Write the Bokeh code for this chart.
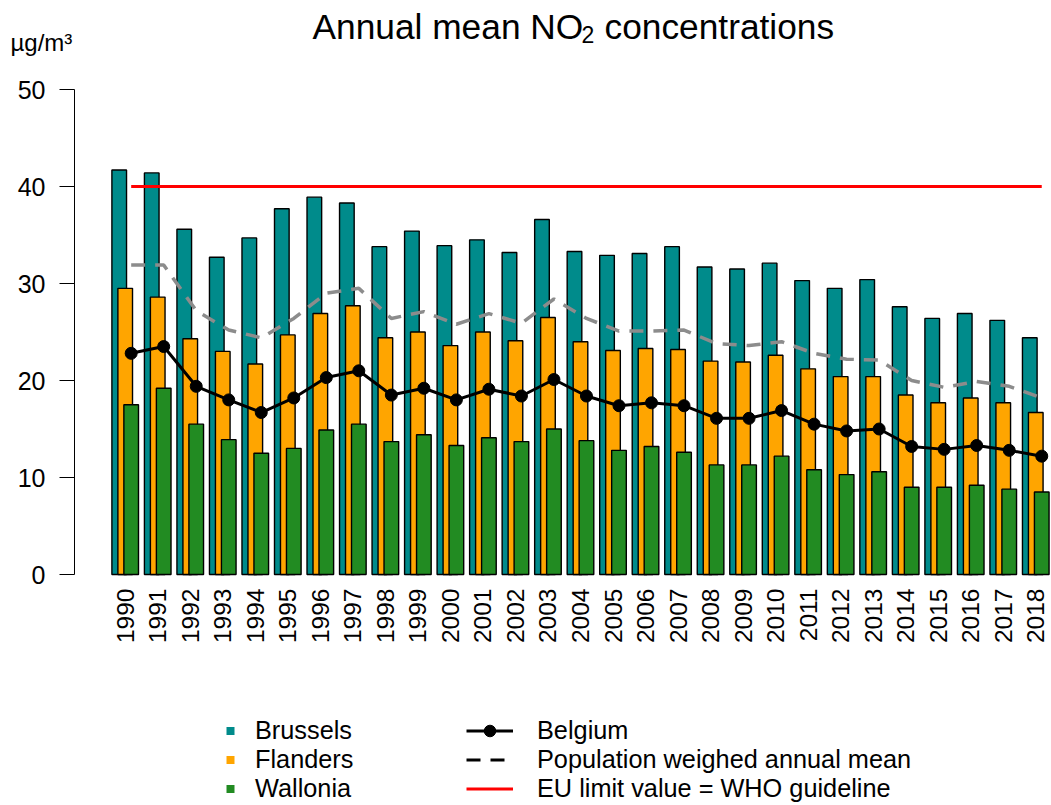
from bokeh.plotting import figure
from bokeh.models import (Range1d, FixedTicker, Label, Legend, LegendItem,
                          ColumnDataSource)
from bokeh.embed import file_html
from bokeh.resources import INLINE
import math

# ---------------- data ----------------
years = [1990, 1991, 1992, 1993, 1994, 1995, 1996, 1997, 1998, 1999,
         2000, 2001, 2002, 2003, 2004, 2005, 2006, 2007, 2008, 2009,
         2010, 2011, 2012, 2013, 2014, 2015, 2016, 2017, 2018]
brussels = [41.7, 41.4, 35.6, 32.7, 34.7, 37.7, 38.9, 38.3, 33.8, 35.4,
            33.9, 34.5, 33.2, 36.6, 33.3, 32.9, 33.1, 33.8, 31.7, 31.5,
            32.1, 30.3, 29.5, 30.4, 27.6, 26.4, 26.9, 26.2, 24.4]
flanders = [29.5, 28.6, 24.3, 23.0, 21.7, 24.7, 26.9, 27.7, 24.4, 25.0,
            23.6, 25.0, 24.1, 26.5, 24.0, 23.1, 23.3, 23.2, 22.0, 21.9,
            22.6, 21.2, 20.4, 20.4, 18.5, 17.7, 18.2, 17.7, 16.7]
wallonia = [17.5, 19.2, 15.5, 13.9, 12.5, 13.0, 14.9, 15.5, 13.7, 14.4,
            13.3, 14.1, 13.7, 15.0, 13.8, 12.8, 13.2, 12.6, 11.3, 11.3,
            12.2, 10.8, 10.3, 10.6, 9.0, 9.0, 9.2, 8.8, 8.5]
belgium = [22.8, 23.5, 19.4, 18.0, 16.7, 18.2, 20.3, 21.0, 18.5, 19.2,
           18.0, 19.1, 18.4, 20.1, 18.4, 17.4, 17.7, 17.4, 16.1, 16.1,
           16.9, 15.5, 14.8, 15.0, 13.2, 12.9, 13.3, 12.8, 12.2]
pop_weighted = [31.9, 31.9, 27.2, 25.2, 24.4, 26.4, 29.0, 29.5, 26.4, 27.1,
                25.8, 26.9, 25.9, 28.4, 26.4, 25.1, 25.1, 25.2, 23.8, 23.6,
                24.0, 22.8, 22.2, 22.1, 20.0, 19.3, 19.9, 19.4, 18.2]
eu_limit = 40
y_ticks = [0, 10, 20, 30, 40, 50]

# ---------------- layout helpers ----------------
FONT = "Liberation Sans"
OFF = 0.184      # bar offset within a year group
BW = 0.45        # bar width
W, H = 1051, 805


def x_at(px):
    return 1990 + (px - 124.7) / 32.52


def y_at(py):
    return (574 - py) / 9.7


p = figure(width=W, height=H, output_backend="svg", toolbar_location=None,
           x_range=Range1d(x_at(0), x_at(W)), y_range=Range1d(y_at(H), y_at(0)),
           min_border=0, min_border_left=0, min_border_right=0,
           min_border_top=0, min_border_bottom=0,
           background_fill_color="white", border_fill_color="white",
           outline_line_color=None)
p.grid.visible = False

src = ColumnDataSource(dict(
    xb=[y - OFF for y in years], xf=list(years), xw=[y + OFF for y in years],
    brussels=brussels, flanders=flanders, wallonia=wallonia,
    belgium=belgium, pop=pop_weighted))

p.vbar(x="xb", top="brussels", width=BW, bottom=0, source=src,
       fill_color="#008B8B", line_color="black", line_width=1.4)
p.vbar(x="xf", top="flanders", width=BW, bottom=0, source=src,
       fill_color="#FFA500", line_color="black", line_width=1.4)
p.vbar(x="xw", top="wallonia", width=BW, bottom=0, source=src,
       fill_color="#228B22", line_color="black", line_width=1.4)

p.line(x="xw", y="pop", source=src, line_color="#8C8C8C", line_width=3.5,
       line_dash="14 10")
r_bel_line = p.line(x="xw", y="belgium", source=src, line_color="black",
                    line_width=3)
r_bel_pts = p.scatter(x="xw", y="belgium", source=src, marker="circle",
                      size=12, fill_color="black", line_color="black")
r_eu = p.line(x=[years[0] + OFF, years[-1] + OFF], y=[eu_limit, eu_limit],
              line_color="#FF0000", line_width=2.8)

# ---------------- axes (drawn at fixed data locations) ----------------
ya = p.yaxis[0]
ya.fixed_location = x_at(74)
ya.bounds = (0, 50)
ya.ticker = FixedTicker(ticks=y_ticks)
ya.major_tick_out = 15
ya.major_tick_in = 0
ya.minor_tick_line_color = None
ya.axis_line_color = "black"
ya.axis_line_width = 1
ya.major_tick_line_width = 1
ya.major_label_standoff = 14
ya.major_label_text_font = FONT
ya.major_label_text_font_size = "25px"
ya.major_label_text_color = "black"

xa = p.xaxis[0]
xa.fixed_location = 0
xa.ticker = FixedTicker(ticks=years)
xa.major_label_orientation = math.pi / 2
xa.axis_line_color = None
xa.major_tick_line_color = None
xa.minor_tick_line_color = None
xa.major_tick_out = 0
xa.major_tick_in = 0
xa.major_label_standoff = 14
xa.major_label_text_font = FONT
xa.major_label_text_font_size = "24.5px"
xa.major_label_text_color = "black"

# ---------------- title & unit ----------------
for txt, px, py, fs in [("Annual mean NO", 312, 26, "35.3px"),
                        ("2", 581, 34, "23px"),
                        ("concentrations", 604, 26, "35.3px")]:
    p.add_layout(Label(x=x_at(px), y=y_at(py), text=txt, text_font=FONT,
                       text_font_size=fs, text_align="left",
                       text_baseline="alphabetic", text_color="black"))
p.add_layout(Label(x=x_at(10), y=y_at(42), text="µg/m³", text_font=FONT,
                   text_font_size="24px", text_align="left",
                   text_baseline="alphabetic", text_color="black"))

# ---------------- legends ----------------
nan = float("nan")
sq_b = p.scatter(x=[nan], y=[nan], marker="square", size=8,
                 fill_color="#008B8B", line_color=None)
sq_f = p.scatter(x=[nan], y=[nan], marker="square", size=8,
                 fill_color="#FFA500", line_color=None)
sq_w = p.scatter(x=[nan], y=[nan], marker="square", size=8,
                 fill_color="#228B22", line_color=None)
dash_leg = p.line(x=[nan], y=[nan], line_color="black", line_width=3,
                  line_dash="14 10")

common = dict(border_line_color=None, background_fill_alpha=0, padding=0,
              margin=0, spacing=0, glyph_height=29, label_height=29,
              label_text_font=FONT, label_text_font_size="25.3px",
              label_text_color="black", orientation="vertical")

leg1 = Legend(items=[LegendItem(label="Brussels", renderers=[sq_b]),
                     LegendItem(label="Flanders", renderers=[sq_f]),
                     LegendItem(label="Wallonia", renderers=[sq_w])],
              location=(220, 2), glyph_width=20, label_standoff=15,
              **common)
leg2 = Legend(items=[LegendItem(label="Belgium",
                                renderers=[r_bel_line, r_bel_pts]),
                     LegendItem(label="Population weighed annual mean",
                                renderers=[dash_leg]),
                     LegendItem(label="EU limit value = WHO guideline",
                                renderers=[r_eu])],
              location=(466, 2), glyph_width=47, label_standoff=24,
              **common)
p.add_layout(leg1, "center")
p.add_layout(leg2, "center")

open("out.html", "w").write(file_html(p, INLINE))
